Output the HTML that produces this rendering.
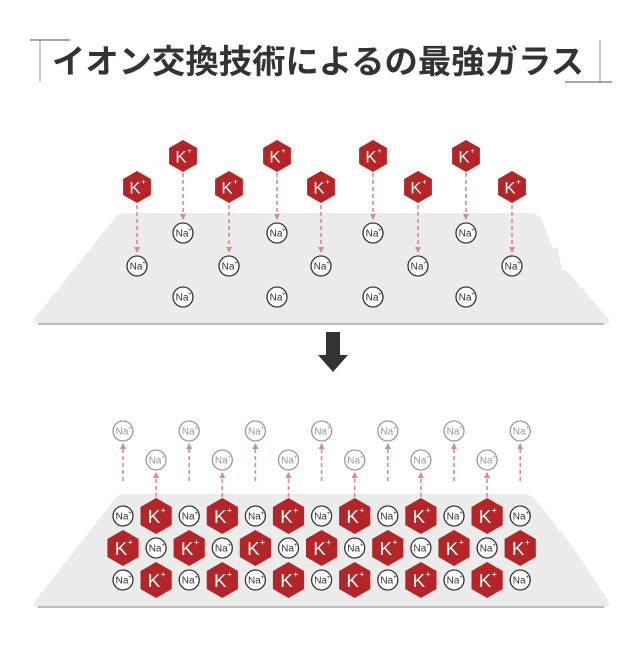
<!DOCTYPE html>
<html><head><meta charset="utf-8"><style>
body{margin:0;background:#fff;width:640px;height:640px;overflow:hidden}
svg text{font-family:"Liberation Sans","Noto Sans CJK JP",sans-serif}
</style></head><body>
<svg width="640" height="640" viewBox="0 0 640 640" xmlns="http://www.w3.org/2000/svg">
<defs>
<marker id="ah" markerUnits="userSpaceOnUse" markerWidth="7" markerHeight="7" refX="5" refY="3.5" orient="auto"><path d="M0,0.5 L6,3.5 L0,6.5 z" fill="#d98a8a"/></marker>
</defs>
<!-- title -->
<line x1="40" y1="40" x2="40" y2="82" stroke="#bbb" stroke-width="1.5"/>
<line x1="30" y1="40" x2="70" y2="40" stroke="#888" stroke-width="1.5"/>
<line x1="600" y1="40" x2="600" y2="82" stroke="#bbb" stroke-width="1.5"/>
<line x1="565" y1="82" x2="612" y2="82" stroke="#888" stroke-width="1.5"/>
<text x="318" y="73" text-anchor="middle" font-size="33" font-weight="bold" fill="#333" textLength="532" lengthAdjust="spacingAndGlyphs" style='font-family:"Noto Sans CJK JP",sans-serif'>イオン交換技術によるの最強ガラス</text>

<!-- top glass -->
<path d="M124,213 L530,213 Q537,213 541,218 L553,248 L558,248 L562,270 L566,270 L608,318 Q612,324 604,324 L38,324 Q31,324 35,318 L114,219 Q118,213 124,213 Z" fill="#ececec"/>
<line x1="38" y1="324" x2="604" y2="324" stroke="#aaa" stroke-width="1.5"/>
<g id="top" font-size="10" fill="#333"></g>

<!-- down arrow -->
<path d="M326,332 L340,332 L340,355 L348,355 L333,372 L318,355 L326,355 Z" fill="#333"/>

<!-- bottom glass -->
<path d="M124,494 L524,494 Q531,494 535,499 L558,528 L558,531 L562,531 L577,553 L608,600 Q612,607 604,607 L38,607 Q31,607 35,601 L114,500 Q118,494 124,494 Z" fill="#ececec"/>
<line x1="38" y1="607" x2="604" y2="607" stroke="#aaa" stroke-width="1.5"/>
<g id="bot"></g>
</svg>
<script>
var NS="http://www.w3.org/2000/svg";
function el(g,t,a,txt){var e=document.createElementNS(NS,t);for(var k in a)e.setAttribute(k,a[k]);if(txt!==undefined)e.textContent=txt;g.appendChild(e);return e;}
function hex(g,x,y,r){var p=[];for(var i=0;i<6;i++){var a=Math.PI/3*i-Math.PI/2;p.push((x+r*Math.cos(a)).toFixed(1)+","+(y+r*Math.sin(a)).toFixed(1));}
el(g,"polygon",{points:p.join(" "),fill:"#b52426"});
el(g,"text",{x:x-2,y:y+r*0.4,"text-anchor":"middle","font-size":r*1.05,fill:"#fff"},"K");
el(g,"text",{x:x+r*0.4,y:y-r*0.15,"text-anchor":"middle","font-size":r*0.5,fill:"#fff"},"+");}
function na(g,x,y,c){el(g,"circle",{cx:x,cy:y,r:10,fill:"#fff",stroke:c,"stroke-width":1.3});
el(g,"text",{x:x-1,y:y+3.5,"text-anchor":"middle","font-size":10,fill:c},"Na");
el(g,"text",{x:x+7,y:y-1,"text-anchor":"middle","font-size":6,fill:c},"+");}
function arr(g,x,y1,y2){el(g,"line",{x1:x,y1:y1,x2:x,y2:y2,stroke:"#d98a8a","stroke-width":1.6,"stroke-dasharray":"4,3","marker-end":"url(#ah)"});}
var t=document.getElementById("top");
[183,277,373,466].forEach(function(x){arr(t,x,173,219);hex(t,x,156,16);na(t,x,233,"#333");na(t,x,297,"#333");});
[137,229,321,418,512].forEach(function(x){arr(t,x,205,252);hex(t,x,187,16);na(t,x,266,"#333");});
var b=document.getElementById("bot");
var cols=[];for(var i=0;i<13;i++)cols.push(123+i*33.1);
cols.forEach(function(x,i){
 if(i%2==0){arr(b,x,481,444);na(b,x,431,"#999");}
 else if(i<12){arr(b,x,497,473);na(b,x,460,"#999");}
});
cols.forEach(function(x,i){
 if(i%2==0){na(b,x,516,"#333");hex(b,x,548,18);na(b,x,580,"#333");}
 else{hex(b,x,516,18);na(b,x,548,"#333");hex(b,x,580,18);}
});
</script>
</body></html>
